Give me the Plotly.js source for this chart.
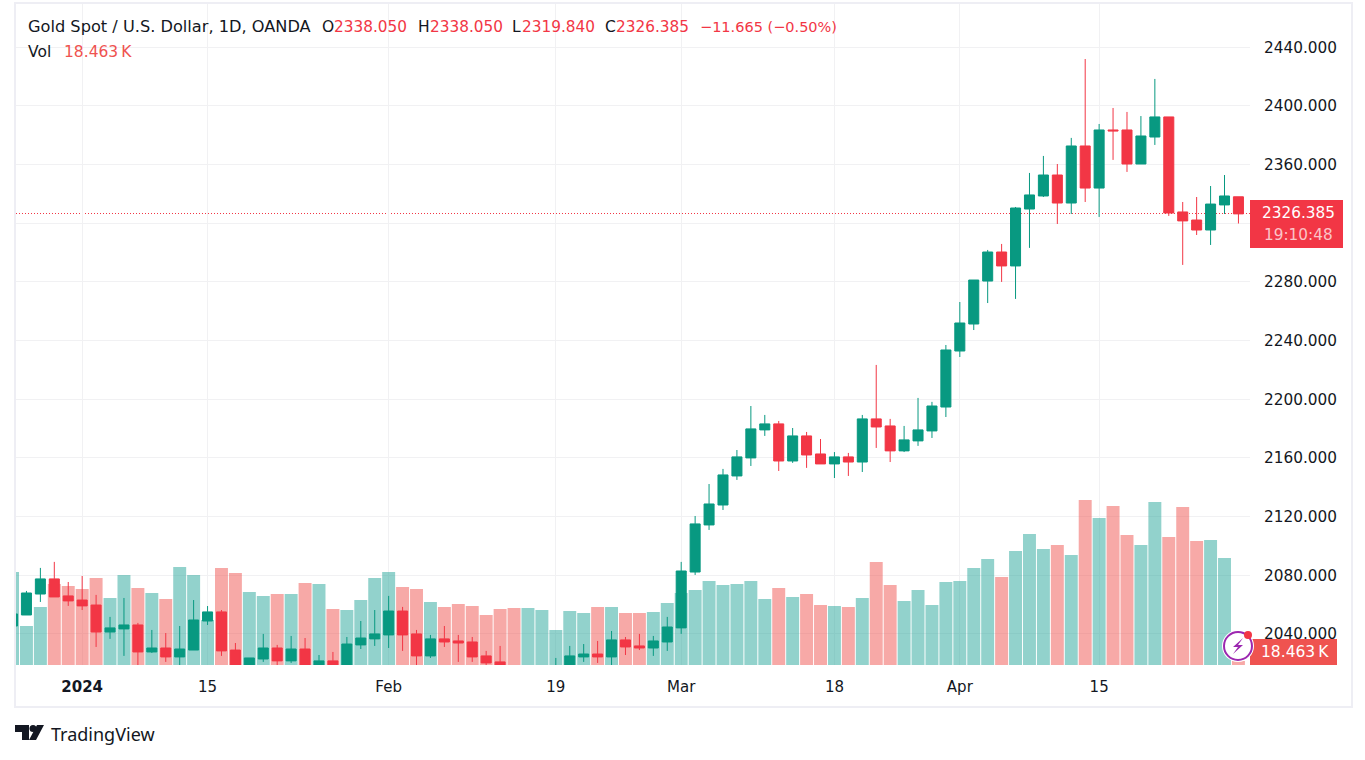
<!DOCTYPE html>
<html>
<head>
<meta charset="utf-8">
<title>Gold Spot / U.S. Dollar</title>
<script src="https://cdn.plot.ly/plotly-3.0.1.min.js"></script>
<style>
  html, body { margin: 0; padding: 0; background: #fff; }
  #chart { width: 1365px; height: 760px; }
  /* keep the dotted price line sharp */
  .shapelayer path[style*="dasharray: 1px"] { shape-rendering: crispEdges; }
</style>
</head>
<body>
<div id="chart"></div>
<script>
var dates = [
  '2023-12-22','2023-12-26','2023-12-27','2023-12-28','2023-12-29',
  '2024-01-02','2024-01-03','2024-01-04','2024-01-05','2024-01-08','2024-01-09','2024-01-10','2024-01-11','2024-01-12',
  '2024-01-15','2024-01-16','2024-01-17','2024-01-18','2024-01-19','2024-01-22','2024-01-23','2024-01-24','2024-01-25','2024-01-26',
  '2024-01-29','2024-01-30','2024-01-31','2024-02-01','2024-02-02','2024-02-05','2024-02-06','2024-02-07','2024-02-08','2024-02-09',
  '2024-02-12','2024-02-13','2024-02-14','2024-02-15','2024-02-16','2024-02-19','2024-02-20','2024-02-21','2024-02-22','2024-02-23',
  '2024-02-26','2024-02-27','2024-02-28','2024-02-29','2024-03-01','2024-03-04','2024-03-05','2024-03-06','2024-03-07','2024-03-08',
  '2024-03-11','2024-03-12','2024-03-13','2024-03-14','2024-03-15','2024-03-18','2024-03-19','2024-03-20','2024-03-21','2024-03-22',
  '2024-03-25','2024-03-26','2024-03-27','2024-03-28','2024-04-01','2024-04-02','2024-04-03','2024-04-04','2024-04-05',
  '2024-04-08','2024-04-09','2024-04-10','2024-04-11','2024-04-12','2024-04-15','2024-04-16','2024-04-17','2024-04-18','2024-04-19',
  '2024-04-22','2024-04-23','2024-04-24','2024-04-25','2024-04-26','2024-04-29'
];

var opens = [
  2045.4,2052.9,2067.2,2077.5,2065.9,2063.1,2059.7,2041.3,2043.4,2046.1,
  2027.7,2030.4,2024.3,2029,2048.8,2055,2029,2015,2022.9,2030.4,
  2021.6,2029.7,2016,2021.6,2016,2032.5,2036.6,2039.3,2055.6,2040,
  2025,2036.6,2035.2,2034.5,2025,2020.9,2016,2012,2014,2014,
  2016,2024.3,2026.3,2024.3,2035.9,2031.8,2030.4,2034.5,2044.1,2082.2,
  2114.3,2127.9,2147.7,2160,2179.1,2183.2,2157.9,2175,2162.7,2155.9,
  2160.7,2157.2,2186.6,2181.8,2164.8,2171.6,2178.4,2194.7,2232.9,2251.3,
  2280.6,2300.4,2290.9,2329.7,2338.6,2352.9,2333.8,2372.7,2344,2383.6,
  2383.6,2360.4,2378.8,2392.5,2327.7,2322.2,2315.4,2332.5,2338.05
];
var highs = [
  2055,2069.3,2085,2089.1,2075.4,2079.5,2066.6,2051.6,2064.5,2047.5,
  2042.7,2040.6,2045.4,2063.1,2059,2056.3,2033.8,2023.6,2040,2032.5,
  2038.6,2037.2,2025.6,2027.7,2037.9,2048.8,2056.3,2065.9,2058.4,2042.7,
  2039.3,2045.4,2039.3,2037.9,2028.4,2031.8,2018,2017,2018,2023.6,
  2031.8,2033.1,2035.2,2042,2037.9,2040,2038.6,2051.6,2089.1,2120.4,
  2142.2,2152.5,2165.4,2195.4,2189.3,2185.2,2180.4,2177.7,2172.9,2164,
  2163.4,2189.3,2223.4,2186.6,2181.8,2200.9,2198.2,2237,2266.3,2281.3,
  2301.8,2305.9,2331.1,2354.3,2365.9,2360.4,2378.2,2432,2387.7,2398.6,
  2395.9,2393.1,2418.4,2392.5,2334.5,2337.9,2345.4,2352.9,2338.05
];
var lows = [
  2044,2052.9,2061.8,2065.2,2059.1,2056.3,2031.1,2036.6,2025,2018,
  2027,2020.9,2018,2029,2046.1,2025,2012,2013,2020.9,2017,
  2020.2,2015,2015,2014,2014,2029.7,2031.8,2030.4,2028.4,2016,
  2023.6,2031.1,2020.9,2020.9,2017,2015,2010,2009,2011,2012,
  2014,2020.9,2020.2,2017,2025.6,2029,2025,2028.4,2040,2080.2,
  2110.9,2124.5,2145,2154.5,2175,2151.1,2156.6,2153.2,2155.9,2146.3,
  2147.7,2150.4,2166.8,2157.2,2164,2168.2,2173.6,2187.9,2228.8,2247.2,
  2265.6,2280,2268.4,2303.2,2337.9,2319.5,2326.3,2334.5,2324.3,2363.2,
  2355,2360.4,2373.4,2325,2291.6,2312,2305.2,2326.3,2319.84
];
var closes = [
  2053.6,2067.9,2077.5,2065.2,2062.5,2059.1,2041.3,2044.1,2046.1,2027.7,
  2030.4,2024.3,2029.7,2049.5,2055,2028.4,2015,2023.6,2030.4,2021.6,
  2029.7,2016,2021.6,2016,2033.1,2037.2,2040,2055.6,2039.3,2025,
  2036.6,2034.5,2033.8,2024.3,2020.2,2016,2012,2015,2016,2017,
  2025,2026.3,2024.3,2035.9,2031.1,2030.4,2035.2,2044.7,2082.9,2115,
  2128.6,2148.4,2160.7,2179.8,2183.2,2157.9,2175,2162,2155.9,2160.7,
  2157.2,2186.6,2181.1,2164.8,2172.3,2179.1,2195.4,2233.6,2252,2281.3,
  2300.4,2290.9,2330.4,2339.3,2352.9,2333.8,2372.7,2344,2383.6,2383,
  2360.4,2379.5,2392.5,2327,2321.6,2315.4,2333.1,2338.6,2326.385
];
var volumes = [
  427.8,179.4,266.8,372.6,363.4,349.6,400.2,308.2,414,354.2,
  331.2,303.6,450.8,414,207,446.1,423.1,335.7,317.3,326.5,
  326.5,377.1,372.5,257.5,253,299,400.1,427.7,358.7,349.5,
  289.7,266.7,280.5,271.3,230,257.5,262.1,262.1,253,161,
  248.3,239.1,266.7,266.7,239.1,239.1,243.7,285.1,331.1,344.9,
  386.3,367.9,372.5,386.3,303.5,354.1,312.7,326.5,275.9,271.3,
  266.7,308.1,473.7,367.9,294.3,344.9,275.9,381.7,386.3,446.1,
  487.5,404.7,524.3,602.5,533.5,551.9,505.9,758.8,676,731.2,
  597.9,551.9,749.6,588.7,726.6,570.3,574.9,492.1,18.463
];

var tickDates = ['2024-01-02','2024-01-15','2024-02-01','2024-02-19','2024-03-01','2024-03-18','2024-04-01','2024-04-15'];
var tickLabels = ['<b>2024</b>','15','Feb','19','Mar','18','Apr','15'];
var priceTicks = [2040,2080,2120,2160,2200,2240,2280,2320,2360,2400,2440];
// 2320.000 sits behind the last price tag so it has no text
var priceLabels = ['2040.000','2080.000','2120.000','2160.000','2200.000','2240.000','2280.000','','2360.000','2400.000','2440.000'];

var upColor = '#089981';
var downColor = '#f23645';
var volRed = '#ef5350';
var textColor = '#131722';
var fontName = 'DejaVu Sans, sans-serif';

// pixel to paper, plot area is 16..1250 across and 4..665 down
function px(x) { return (x - 16) / 1234; }
function py(y) { return (665 - y) / 661; }

var volColors = [];
for (var i = 0; i < closes.length; i++) {
  volColors.push(closes[i] < opens[i] ? 'rgba(239,83,80,0.5)' : 'rgba(38,166,154,0.5)');
}

var volumeTrace = {
  type: 'bar',
  x: dates,
  y: volumes,
  yaxis: 'y',
  marker: {color: volColors, line: {width: 0}},
  hoverinfo: 'skip'
};

var candleTrace = {
  type: 'candlestick',
  x: dates,
  open: opens,
  high: highs,
  low: lows,
  close: closes,
  yaxis: 'y2',
  whiskerwidth: 0,
  increasing: {line: {color: upColor, width: 1}, fillcolor: upColor},
  decreasing: {line: {color: downColor, width: 1}, fillcolor: downColor}
};

function label(x, y, text, color, size, anchor, family) {
  return {
    xref: 'paper', yref: 'paper', x: px(x), y: py(y),
    text: text, showarrow: false, xanchor: anchor || 'left', yanchor: 'middle',
    font: {family: family || fontName, size: size || 15.5, color: color || textColor},
    borderpad: 0
  };
}

var annotations = [
  label(27, 26.5, 'Gold Spot / U.S. Dollar, 1D, OANDA', textColor, 16.2),
  label(321, 26.5, 'O'),
  label(333, 26.5, '2338.050', downColor, 15.3),
  label(417, 26.5, 'H'),
  label(429, 26.5, '2338.050', downColor, 15.3),
  label(511, 26.5, 'L'),
  label(521, 26.5, '2319.840', downColor, 15.3),
  label(604, 26.5, 'C'),
  label(615, 26.5, '2326.385', downColor, 15.3),
  label(699, 26.5, '\u221211.665 (\u22120.50%)', downColor, 14.5),
  label(27, 52, 'Vol'),
  label(63, 52, '18.463\u202fK', volRed),
  label(1298, 213, '2326.385', '#ffffff', 15.3, 'center'),
  label(1298, 235, '19:10:48', '#fbc4c8', 15.3, 'center'),
  label(1295, 652, '18.463\u202fK', '#ffffff', 15.5, 'center'),
  label(50, 734, 'TradingView', '#131722', 18, 'left', 'Noto Sans, sans-serif')
];

function box(x0, y0, x1, y1, color) {
  return {type: 'rect', xref: 'paper', yref: 'paper', layer: 'above',
    x0: px(x0), x1: px(x1), y0: py(y0), y1: py(y1),
    fillcolor: color, line: {width: 0}};
}
function pathShape(points, color) {
  var d = points.map(function (p, n) {
    return (n ? 'L' : 'M') + px(p[0]) + ',' + py(p[1]);
  }).join(' ') + ' Z';
  return {type: 'path', xref: 'paper', yref: 'paper', layer: 'above', path: d,
    fillcolor: color, line: {width: 0}};
}
function circle(cx, cy, r, fill, lineColor, lineWidth) {
  return {type: 'circle', xref: 'paper', yref: 'paper', layer: 'above',
    x0: px(cx - r), x1: px(cx + r), y0: py(cy - r), y1: py(cy + r),
    fillcolor: fill, line: {color: lineColor || fill, width: lineWidth || 0}};
}

var shapes = [
  // frame round the chart
  {type: 'rect', xref: 'paper', yref: 'paper', layer: 'above',
    x0: px(15), x1: px(1352), y0: py(3), y1: py(707),
    line: {color: '#eeeef4', width: 2}},
  // last price line, under the candles
  {type: 'line', xref: 'paper', yref: 'y2', layer: 'below',
    x0: 0, x1: 1, y0: 2326.385, y1: 2326.385,
    line: {color: downColor, width: 1, dash: '1px,2px'}},
  box(1250, 200, 1343, 248, downColor),
  box(1250, 639, 1337, 665, volRed),
  // bolt badge
  circle(1238, 646, 16, '#ffffff'),
  circle(1238, 646, 14, '#ffffff', '#9c27b0', 2),
  pathShape([[1243,638],[1233,647],[1238,647],[1233,654],[1243,645],[1238,645]], '#9c27b0'),
  circle(1248, 635, 4, downColor),
  // logo
  pathShape([[15,725],[29,725],[29,740],[22,740],[22,732],[15,732]], textColor),
  circle(33, 728.5, 3.5, textColor),
  pathShape([[37,725],[44,725],[36,740],[29,740]], textColor)
];

var layout = {
  width: 1365,
  height: 760,
  margin: {l: 16, r: 115, t: 4, b: 95, pad: 0},
  paper_bgcolor: '#ffffff',
  plot_bgcolor: '#ffffff',
  showlegend: false,
  bargap: 0.07,
  boxgap: 0.28,
  boxgroupgap: 0,
  font: {family: fontName, color: textColor},
  xaxis: {
    type: 'category',
    range: [0.25, 88.83],
    rangeslider: {visible: false},
    tickmode: 'array',
    tickvals: tickDates,
    ticktext: tickLabels,
    tickangle: 0,
    ticks: 'outside',
    ticklen: 8,
    tickcolor: 'rgba(0,0,0,0)',
    tickfont: {family: fontName, size: 15, color: textColor},
    showgrid: true,
    gridcolor: '#f1f1f3',
    gridwidth: 1,
    zeroline: false,
    showline: false
  },
  yaxis: {
    range: [0, 3040.6],
    visible: false,
    fixedrange: true
  },
  yaxis2: {
    overlaying: 'y',
    side: 'right',
    anchor: 'x',
    range: [2018.8, 2469.5],
    tickmode: 'array',
    tickvals: priceTicks,
    ticktext: priceLabels,
    ticks: 'outside',
    ticklen: 10,
    tickcolor: 'rgba(0,0,0,0)',
    tickfont: {family: fontName, size: 15.3, color: textColor},
    showgrid: true,
    gridcolor: '#f1f1f3',
    gridwidth: 1,
    zeroline: false,
    showline: false
  },
  annotations: annotations,
  shapes: shapes
};

Plotly.newPlot('chart', [volumeTrace, candleTrace], layout, {displayModeBar: false, responsive: false});
</script>
</body>
</html>
